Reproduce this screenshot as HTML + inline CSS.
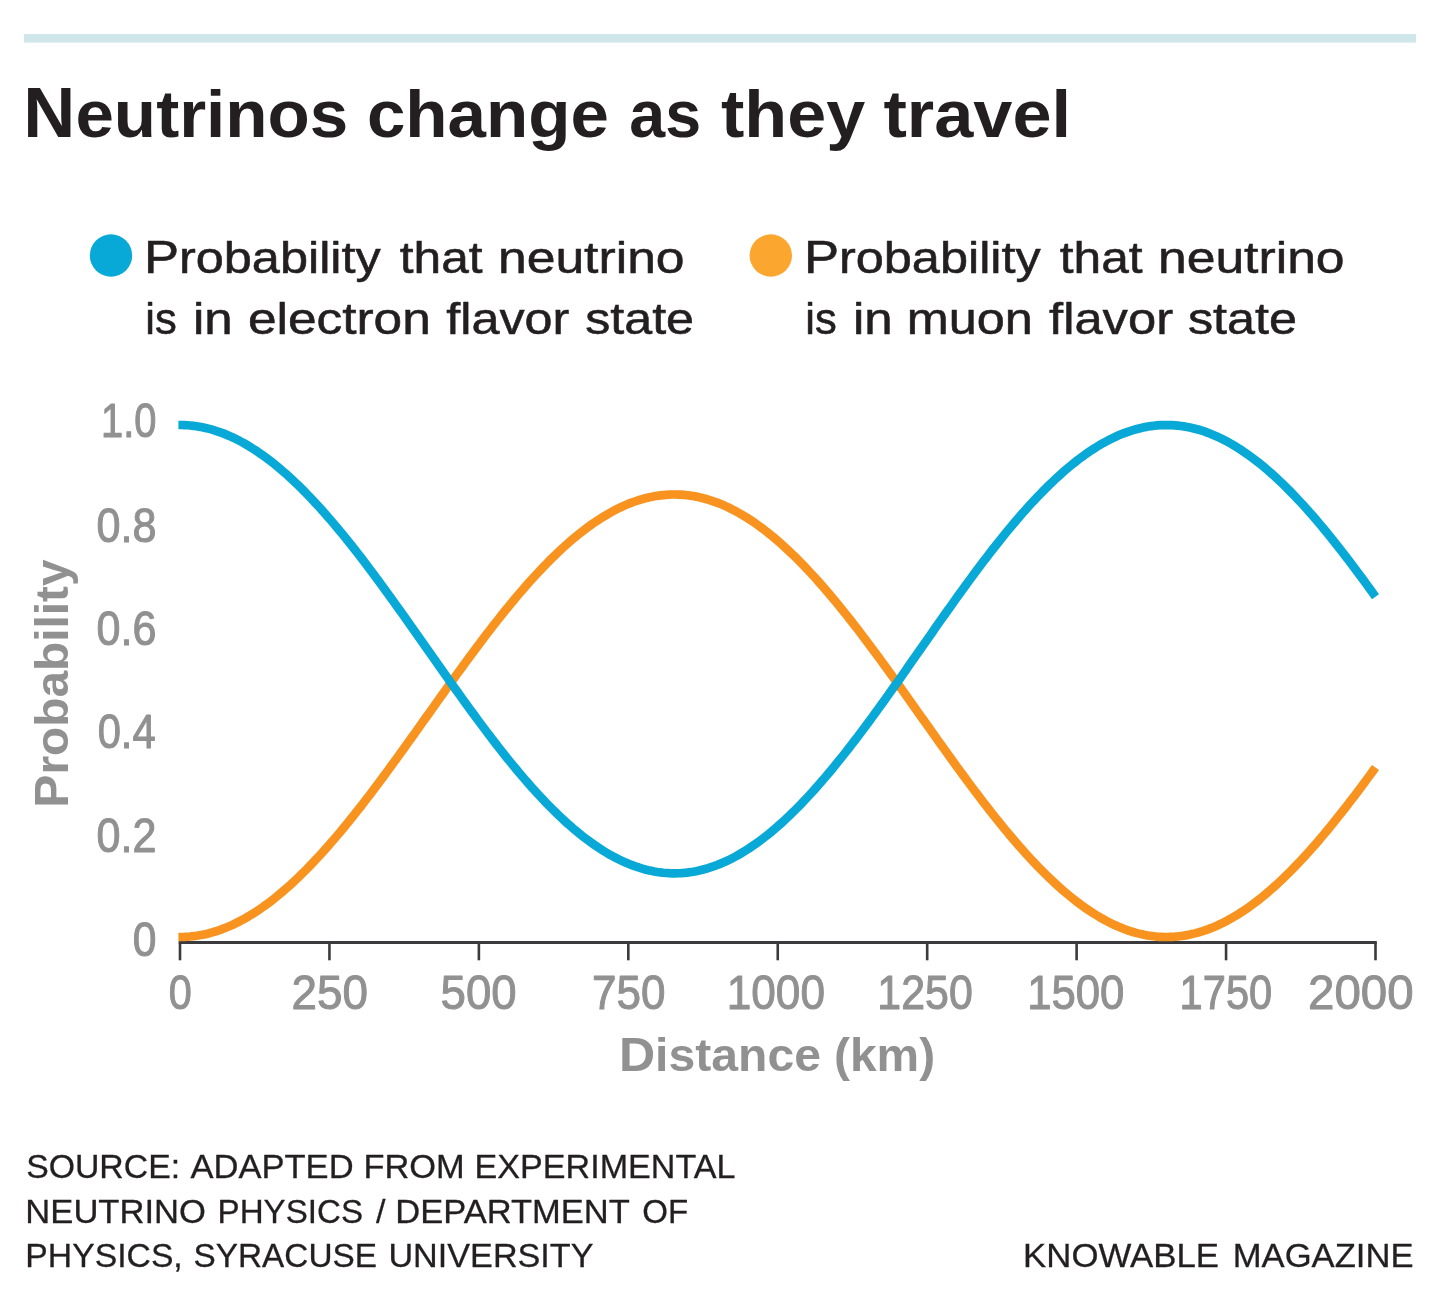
<!DOCTYPE html>
<html lang="en"><head><meta charset="utf-8"><title>Neutrinos change as they travel</title>
<style>html,body{margin:0;padding:0;background:#fff}body{width:1440px;height:1294px;overflow:hidden}svg{display:block}text{white-space:pre}</style>
</head><body>
<svg width="1440" height="1294" viewBox="0 0 1440 1294" font-family='"Liberation Sans", sans-serif'>
<rect x="24" y="34" width="1392" height="8.6" fill="#cfe6ea"/>
<circle cx="111" cy="255.5" r="21.2" fill="#08a9d6"/>
<circle cx="770.8" cy="255.5" r="21.2" fill="#fba62e"/>
<g stroke="#3b3a3c" stroke-width="2.6" fill="none">
<line x1="178.7" y1="942.5" x2="1376.8" y2="942.5" stroke-width="3"/>
<line x1="180" y1="942.5" x2="180" y2="960.3"/><line x1="329.44" y1="942.5" x2="329.44" y2="960.3"/><line x1="478.88" y1="942.5" x2="478.88" y2="960.3"/><line x1="628.31" y1="942.5" x2="628.31" y2="960.3"/><line x1="777.75" y1="942.5" x2="777.75" y2="960.3"/><line x1="927.19" y1="942.5" x2="927.19" y2="960.3"/><line x1="1076.62" y1="942.5" x2="1076.62" y2="960.3"/><line x1="1226.06" y1="942.5" x2="1226.06" y2="960.3"/><line x1="1375.5" y1="942.5" x2="1375.5" y2="960.3"/>
</g>
<path d="M178.4 936.99 L181.39 936.99 L184.39 936.91 L187.38 936.76 L190.37 936.52 L193.36 936.2 L196.36 935.81 L199.35 935.33 L202.34 934.77 L205.33 934.14 L208.33 933.43 L211.32 932.63 L214.31 931.76 L217.31 930.82 L220.3 929.79 L223.29 928.68 L226.28 927.5 L229.28 926.25 L232.27 924.91 L235.26 923.5 L238.25 922.02 L241.25 920.46 L244.24 918.83 L247.23 917.12 L250.23 915.34 L253.22 913.49 L256.21 911.57 L259.2 909.58 L262.2 907.51 L265.19 905.38 L268.18 903.18 L271.18 900.91 L274.17 898.57 L277.16 896.17 L280.15 893.7 L283.15 891.17 L286.14 888.58 L289.13 885.92 L292.12 883.2 L295.12 880.42 L298.11 877.58 L301.1 874.68 L304.1 871.73 L307.09 868.72 L310.08 865.65 L313.07 862.53 L316.07 859.36 L319.06 856.13 L322.05 852.85 L325.04 849.53 L328.04 846.15 L331.03 842.73 L334.02 839.26 L337.02 835.75 L340.01 832.2 L343 828.6 L345.99 824.96 L348.99 821.28 L351.98 817.56 L354.97 813.81 L357.97 810.02 L360.96 806.2 L363.95 802.35 L366.94 798.46 L369.94 794.54 L372.93 790.6 L375.92 786.63 L378.91 782.63 L381.91 778.61 L384.9 774.56 L387.89 770.5 L390.89 766.41 L393.88 762.31 L396.87 758.19 L399.86 754.05 L402.86 749.9 L405.85 745.74 L408.84 741.57 L411.83 737.38 L414.83 733.19 L417.82 729 L420.81 724.8 L423.81 720.59 L426.8 716.38 L429.79 712.18 L432.78 707.97 L435.78 703.77 L438.77 699.57 L441.76 695.38 L444.75 691.2 L447.75 687.02 L450.74 682.85 L453.73 678.7 L456.73 674.56 L459.72 670.43 L462.71 666.33 L465.7 662.23 L468.7 658.16 L471.69 654.11 L474.68 650.08 L477.67 646.08 L480.67 642.1 L483.66 638.14 L486.65 634.22 L489.65 630.32 L492.64 626.46 L495.63 622.63 L498.62 618.83 L501.62 615.06 L504.61 611.34 L507.6 607.65 L510.6 604 L513.59 600.39 L516.58 596.82 L519.57 593.29 L522.57 589.81 L525.56 586.38 L528.55 582.99 L531.54 579.65 L534.54 576.35 L537.53 573.11 L540.52 569.92 L543.52 566.79 L546.51 563.7 L549.5 560.67 L552.49 557.7 L555.49 554.79 L558.48 551.93 L561.47 549.13 L564.46 546.39 L567.46 543.72 L570.45 541.1 L573.44 538.55 L576.44 536.07 L579.43 533.65 L582.42 531.29 L585.41 529 L588.41 526.78 L591.4 524.62 L594.39 522.54 L597.38 520.53 L600.38 518.58 L603.37 516.71 L606.36 514.91 L609.36 513.18 L612.35 511.52 L615.34 509.94 L618.33 508.44 L621.33 507 L624.32 505.65 L627.31 504.37 L630.31 503.16 L633.3 502.04 L636.29 500.99 L639.28 500.01 L642.28 499.12 L645.27 498.3 L648.26 497.57 L651.25 496.91 L654.25 496.33 L657.24 495.83 L660.23 495.41 L663.23 495.07 L666.22 494.81 L669.21 494.62 L672.2 494.52 L675.2 494.5 L678.19 494.56 L681.18 494.7 L684.17 494.92 L687.17 495.22 L690.16 495.61 L693.15 496.07 L696.15 496.61 L699.14 497.23 L702.13 497.93 L705.12 498.72 L708.12 499.58 L711.11 500.52 L714.1 501.54 L717.09 502.63 L720.09 503.81 L723.08 505.06 L726.07 506.39 L729.07 507.79 L732.06 509.28 L735.05 510.83 L738.04 512.46 L741.04 514.17 L744.03 515.95 L747.02 517.8 L750.02 519.73 L753.01 521.72 L756 523.79 L758.99 525.93 L761.99 528.13 L764.98 530.41 L767.97 532.75 L770.96 535.16 L773.96 537.64 L776.95 540.18 L779.94 542.78 L782.94 545.45 L785.93 548.18 L788.92 550.97 L791.91 553.82 L794.91 556.73 L797.9 559.7 L800.89 562.73 L803.88 565.81 L806.88 568.95 L809.87 572.14 L812.86 575.38 L815.86 578.67 L818.85 582.01 L821.84 585.41 L824.83 588.85 L827.83 592.33 L830.82 595.86 L833.81 599.44 L836.8 603.06 L839.8 606.72 L842.79 610.42 L845.78 614.15 L848.78 617.93 L851.77 621.74 L854.76 625.58 L857.75 629.46 L860.75 633.37 L863.74 637.31 L866.73 641.27 L869.73 645.27 L872.72 649.29 L875.71 653.33 L878.7 657.4 L881.7 661.49 L884.69 665.6 L887.68 669.72 L890.67 673.87 L893.67 678.03 L896.66 682.2 L899.65 686.38 L902.65 690.58 L905.64 694.79 L908.63 699 L911.62 703.22 L914.62 707.44 L917.61 711.67 L920.6 715.89 L923.59 720.12 L926.59 724.35 L929.58 728.57 L932.57 732.79 L935.57 737 L938.56 741.21 L941.55 745.4 L944.54 749.59 L947.54 753.76 L950.53 757.91 L953.52 762.06 L956.51 766.18 L959.51 770.29 L962.5 774.38 L965.49 778.44 L968.49 782.49 L971.48 786.51 L974.47 790.5 L977.46 794.46 L980.46 798.4 L983.45 802.31 L986.44 806.18 L989.44 810.02 L992.43 813.83 L995.42 817.6 L998.41 821.34 L1001.41 825.03 L1004.4 828.69 L1007.39 832.31 L1010.38 835.88 L1013.38 839.41 L1016.37 842.89 L1019.36 846.33 L1022.36 849.71 L1025.35 853.06 L1028.34 856.35 L1031.33 859.58 L1034.33 862.77 L1037.32 865.9 L1040.31 868.98 L1043.3 872 L1046.3 874.97 L1049.29 877.87 L1052.28 880.72 L1055.28 883.51 L1058.27 886.23 L1061.26 888.9 L1064.25 891.5 L1067.25 894.03 L1070.24 896.5 L1073.23 898.91 L1076.23 901.25 L1079.22 903.52 L1082.21 905.72 L1085.2 907.85 L1088.2 909.92 L1091.19 911.91 L1094.18 913.83 L1097.17 915.67 L1100.17 917.45 L1103.16 919.15 L1106.15 920.78 L1109.15 922.33 L1112.14 923.8 L1115.13 925.2 L1118.12 926.53 L1121.12 927.77 L1124.11 928.94 L1127.1 930.04 L1130.09 931.05 L1133.09 931.98 L1136.08 932.84 L1139.07 933.62 L1142.07 934.31 L1145.06 934.93 L1148.05 935.47 L1151.04 935.92 L1154.04 936.3 L1157.03 936.6 L1160.02 936.81 L1163.01 936.95 L1166.01 937 L1169 936.97 L1171.99 936.86 L1174.99 936.68 L1177.98 936.41 L1180.97 936.06 L1183.96 935.63 L1186.96 935.12 L1189.95 934.52 L1192.94 933.85 L1195.93 933.1 L1198.93 932.27 L1201.92 931.37 L1204.91 930.38 L1207.91 929.31 L1210.9 928.17 L1213.89 926.95 L1216.88 925.65 L1219.88 924.27 L1222.87 922.82 L1225.86 921.29 L1228.86 919.69 L1231.85 918.02 L1234.84 916.27 L1237.83 914.44 L1240.83 912.55 L1243.82 910.58 L1246.81 908.54 L1249.8 906.43 L1252.8 904.25 L1255.79 902 L1258.78 899.69 L1261.78 897.3 L1264.77 894.85 L1267.76 892.34 L1270.75 889.76 L1273.75 887.12 L1276.74 884.41 L1279.73 881.64 L1282.72 878.82 L1285.72 875.93 L1288.71 872.98 L1291.7 869.98 L1294.7 866.92 L1297.69 863.81 L1300.68 860.64 L1303.67 857.42 L1306.67 854.14 L1309.66 850.82 L1312.65 847.45 L1315.64 844.03 L1318.64 840.56 L1321.63 837.04 L1324.62 833.49 L1327.62 829.88 L1330.61 826.24 L1333.6 822.56 L1336.59 818.84 L1339.59 815.08 L1342.58 811.28 L1345.57 807.45 L1348.57 803.59 L1351.56 799.69 L1354.55 795.76 L1357.54 791.81 L1360.54 787.82 L1363.53 783.81 L1366.52 779.78 L1369.51 775.72 L1372.51 771.64 L1375.5 767.54" fill="none" stroke="#f9931f" stroke-width="8.7"/>
<path d="M178.4 425.01 L181.39 425.01 L184.39 425.09 L187.38 425.25 L190.37 425.49 L193.36 425.81 L196.36 426.21 L199.35 426.69 L202.34 427.25 L205.33 427.9 L208.33 428.62 L211.32 429.42 L214.31 430.3 L217.31 431.27 L220.3 432.31 L223.29 433.42 L226.28 434.62 L229.28 435.89 L232.27 437.25 L235.26 438.67 L238.25 440.18 L241.25 441.76 L244.24 443.41 L247.23 445.14 L250.23 446.94 L253.22 448.82 L256.21 450.76 L259.2 452.78 L262.2 454.87 L265.19 457.03 L268.18 459.27 L271.18 461.56 L274.17 463.93 L277.16 466.36 L280.15 468.86 L283.15 471.43 L286.14 474.06 L289.13 476.75 L292.12 479.5 L295.12 482.32 L298.11 485.2 L301.1 488.13 L304.1 491.13 L307.09 494.18 L310.08 497.28 L313.07 500.45 L316.07 503.66 L319.06 506.93 L322.05 510.25 L325.04 513.62 L328.04 517.04 L331.03 520.5 L334.02 524.02 L337.02 527.58 L340.01 531.18 L343 534.82 L345.99 538.51 L348.99 542.24 L351.98 546 L354.97 549.8 L357.97 553.64 L360.96 557.51 L363.95 561.42 L366.94 565.36 L369.94 569.32 L372.93 573.32 L375.92 577.34 L378.91 581.39 L381.91 585.47 L384.9 589.57 L387.89 593.69 L390.89 597.82 L393.88 601.98 L396.87 606.16 L399.86 610.35 L402.86 614.55 L405.85 618.77 L408.84 623 L411.83 627.23 L414.83 631.48 L417.82 635.73 L420.81 639.99 L423.81 644.25 L426.8 648.51 L429.79 652.77 L432.78 657.03 L435.78 661.29 L438.77 665.54 L441.76 669.79 L444.75 674.03 L447.75 678.26 L450.74 682.48 L453.73 686.69 L456.73 690.88 L459.72 695.06 L462.71 699.22 L465.7 703.37 L468.7 707.49 L471.69 711.6 L474.68 715.68 L477.67 719.74 L480.67 723.77 L483.66 727.77 L486.65 731.75 L489.65 735.7 L492.64 739.61 L495.63 743.49 L498.62 747.34 L501.62 751.16 L504.61 754.93 L507.6 758.67 L510.6 762.37 L513.59 766.03 L516.58 769.64 L519.57 773.21 L522.57 776.74 L525.56 780.22 L528.55 783.65 L531.54 787.04 L534.54 790.37 L537.53 793.66 L540.52 796.89 L543.52 800.07 L546.51 803.19 L549.5 806.26 L552.49 809.27 L555.49 812.22 L558.48 815.12 L561.47 817.95 L564.46 820.72 L567.46 823.44 L570.45 826.08 L573.44 828.67 L576.44 831.19 L579.43 833.64 L582.42 836.03 L585.41 838.35 L588.41 840.6 L591.4 842.78 L594.39 844.89 L597.38 846.93 L600.38 848.9 L603.37 850.8 L606.36 852.62 L609.36 854.38 L612.35 856.05 L615.34 857.65 L618.33 859.18 L621.33 860.63 L624.32 862.01 L627.31 863.3 L630.31 864.52 L633.3 865.66 L636.29 866.73 L639.28 867.71 L642.28 868.62 L645.27 869.45 L648.26 870.19 L651.25 870.86 L654.25 871.45 L657.24 871.95 L660.23 872.38 L663.23 872.73 L666.22 872.99 L669.21 873.17 L672.2 873.28 L675.2 873.3 L678.19 873.24 L681.18 873.1 L684.17 872.87 L687.17 872.57 L690.16 872.18 L693.15 871.71 L696.15 871.16 L699.14 870.53 L702.13 869.82 L705.12 869.03 L708.12 868.16 L711.11 867.2 L714.1 866.17 L717.09 865.06 L720.09 863.87 L723.08 862.6 L726.07 861.26 L729.07 859.83 L732.06 858.33 L735.05 856.75 L738.04 855.1 L741.04 853.37 L744.03 851.57 L747.02 849.69 L750.02 847.74 L753.01 845.72 L756 843.63 L758.99 841.46 L761.99 839.23 L764.98 836.92 L767.97 834.55 L770.96 832.11 L773.96 829.6 L776.95 827.02 L779.94 824.38 L782.94 821.68 L785.93 818.92 L788.92 816.09 L791.91 813.2 L794.91 810.25 L797.9 807.24 L800.89 804.18 L803.88 801.06 L806.88 797.88 L809.87 794.65 L812.86 791.36 L815.86 788.03 L818.85 784.64 L821.84 781.2 L824.83 777.72 L827.83 774.18 L830.82 770.61 L833.81 766.98 L836.8 763.32 L839.8 759.61 L842.79 755.87 L845.78 752.08 L848.78 748.26 L851.77 744.4 L854.76 740.5 L857.75 736.57 L860.75 732.61 L863.74 728.62 L866.73 724.6 L869.73 720.56 L872.72 716.48 L875.71 712.39 L878.7 708.26 L881.7 704.12 L884.69 699.96 L887.68 695.78 L890.67 691.58 L893.67 687.37 L896.66 683.14 L899.65 678.9 L902.65 674.65 L905.64 670.39 L908.63 666.12 L911.62 661.85 L914.62 657.57 L917.61 653.29 L920.6 649 L923.59 644.72 L926.59 640.44 L929.58 636.16 L932.57 631.89 L935.57 627.62 L938.56 623.36 L941.55 619.11 L944.54 614.87 L947.54 610.64 L950.53 606.43 L953.52 602.24 L956.51 598.06 L959.51 593.89 L962.5 589.75 L965.49 585.63 L968.49 581.54 L971.48 577.47 L974.47 573.42 L977.46 569.4 L980.46 565.42 L983.45 561.46 L986.44 557.53 L989.44 553.64 L992.43 549.78 L995.42 545.96 L998.41 542.18 L1001.41 538.43 L1004.4 534.73 L1007.39 531.07 L1010.38 527.45 L1013.38 523.87 L1016.37 520.34 L1019.36 516.86 L1022.36 513.43 L1025.35 510.05 L1028.34 506.71 L1031.33 503.43 L1034.33 500.2 L1037.32 497.03 L1040.31 493.91 L1043.3 490.85 L1046.3 487.85 L1049.29 484.9 L1052.28 482.02 L1055.28 479.19 L1058.27 476.43 L1061.26 473.73 L1064.25 471.1 L1067.25 468.53 L1070.24 466.03 L1073.23 463.59 L1076.23 461.22 L1079.22 458.92 L1082.21 456.69 L1085.2 454.53 L1088.2 452.44 L1091.19 450.42 L1094.18 448.48 L1097.17 446.61 L1100.17 444.81 L1103.16 443.08 L1106.15 441.44 L1109.15 439.86 L1112.14 438.37 L1115.13 436.95 L1118.12 435.61 L1121.12 434.35 L1124.11 433.16 L1127.1 432.06 L1130.09 431.03 L1133.09 430.08 L1136.08 429.22 L1139.07 428.43 L1142.07 427.72 L1145.06 427.1 L1148.05 426.55 L1151.04 426.09 L1154.04 425.71 L1157.03 425.41 L1160.02 425.19 L1163.01 425.06 L1166.01 425 L1169 425.03 L1171.99 425.14 L1174.99 425.33 L1177.98 425.6 L1180.97 425.96 L1183.96 426.39 L1186.96 426.91 L1189.95 427.51 L1192.94 428.19 L1195.93 428.95 L1198.93 429.79 L1201.92 430.71 L1204.91 431.71 L1207.91 432.79 L1210.9 433.95 L1213.89 435.19 L1216.88 436.5 L1219.88 437.89 L1222.87 439.36 L1225.86 440.91 L1228.86 442.53 L1231.85 444.23 L1234.84 446.01 L1237.83 447.85 L1240.83 449.77 L1243.82 451.77 L1246.81 453.83 L1249.8 455.97 L1252.8 458.18 L1255.79 460.46 L1258.78 462.8 L1261.78 465.22 L1264.77 467.7 L1267.76 470.25 L1270.75 472.86 L1273.75 475.54 L1276.74 478.28 L1279.73 481.08 L1282.72 483.95 L1285.72 486.87 L1288.71 489.85 L1291.7 492.9 L1294.7 496 L1297.69 499.15 L1300.68 502.36 L1303.67 505.63 L1306.67 508.94 L1309.66 512.31 L1312.65 515.73 L1315.64 519.19 L1318.64 522.71 L1321.63 526.27 L1324.62 529.87 L1327.62 533.52 L1330.61 537.21 L1333.6 540.94 L1336.59 544.71 L1339.59 548.52 L1342.58 552.37 L1345.57 556.25 L1348.57 560.16 L1351.56 564.11 L1354.55 568.09 L1357.54 572.1 L1360.54 576.13 L1363.53 580.2 L1366.52 584.28 L1369.51 588.4 L1372.51 592.53 L1375.5 596.68" fill="none" stroke="#08a9d6" stroke-width="8.7"/>
<g>
<text transform="translate(23.36 136.6) scale(1.0341 1)" font-size="66.9" font-weight="bold" fill="#231f20"><tspan font-size="69.69">N</tspan>eutrinos</text>
<text transform="translate(366.93 136.6) scale(1.0331 1)" font-size="66.9" font-weight="bold" fill="#231f20">change</text>
<text transform="translate(629.34 136.6) scale(0.9649 1)" font-size="66.9" font-weight="bold" fill="#231f20">as</text>
<text transform="translate(721 136.6) scale(1.0485 1)" font-size="66.9" font-weight="bold" fill="#231f20">they</text>
<text transform="translate(883.4 136.6) scale(1.0517 1)" font-size="66.9" font-weight="bold" fill="#231f20">travel</text>
<text transform="translate(143.88 272.7) scale(1.1402 1)" font-size="44.24" font-weight="normal" fill="#231f20" stroke="#231f20" stroke-width="0.6" stroke-linejoin="round" vector-effect="non-scaling-stroke"><tspan font-size="46.08">P</tspan>robability</text>
<text transform="translate(399.8 272.7) scale(1.1215 1)" font-size="44.24" font-weight="normal" fill="#231f20" stroke="#231f20" stroke-width="0.6" stroke-linejoin="round" vector-effect="non-scaling-stroke">that</text>
<text transform="translate(497.96 272.7) scale(1.1677 1)" font-size="44.24" font-weight="normal" fill="#231f20" stroke="#231f20" stroke-width="0.6" stroke-linejoin="round" vector-effect="non-scaling-stroke">neutrino</text>
<text transform="translate(145.33 333.9) scale(0.9853 1)" font-size="44.24" font-weight="normal" fill="#231f20" stroke="#231f20" stroke-width="0.6" stroke-linejoin="round" vector-effect="non-scaling-stroke">is</text>
<text transform="translate(192.99 333.9) scale(1.1534 1)" font-size="44.24" font-weight="normal" fill="#231f20" stroke="#231f20" stroke-width="0.6" stroke-linejoin="round" vector-effect="non-scaling-stroke">in</text>
<text transform="translate(247.89 333.9) scale(1.1622 1)" font-size="44.24" font-weight="normal" fill="#231f20" stroke="#231f20" stroke-width="0.6" stroke-linejoin="round" vector-effect="non-scaling-stroke">electron</text>
<text transform="translate(446.3 333.9) scale(1.1373 1)" font-size="44.24" font-weight="normal" fill="#231f20" stroke="#231f20" stroke-width="0.6" stroke-linejoin="round" vector-effect="non-scaling-stroke">flavor</text>
<text transform="translate(585.16 333.9) scale(1.1354 1)" font-size="44.24" font-weight="normal" fill="#231f20" stroke="#231f20" stroke-width="0.6" stroke-linejoin="round" vector-effect="non-scaling-stroke">state</text>
<text transform="translate(803.88 272.7) scale(1.1402 1)" font-size="44.24" font-weight="normal" fill="#231f20" stroke="#231f20" stroke-width="0.6" stroke-linejoin="round" vector-effect="non-scaling-stroke"><tspan font-size="46.08">P</tspan>robability</text>
<text transform="translate(1059.8 272.7) scale(1.1215 1)" font-size="44.24" font-weight="normal" fill="#231f20" stroke="#231f20" stroke-width="0.6" stroke-linejoin="round" vector-effect="non-scaling-stroke">that</text>
<text transform="translate(1157.96 272.7) scale(1.1677 1)" font-size="44.24" font-weight="normal" fill="#231f20" stroke="#231f20" stroke-width="0.6" stroke-linejoin="round" vector-effect="non-scaling-stroke">neutrino</text>
<text transform="translate(805.33 333.9) scale(0.9853 1)" font-size="44.24" font-weight="normal" fill="#231f20" stroke="#231f20" stroke-width="0.6" stroke-linejoin="round" vector-effect="non-scaling-stroke">is</text>
<text transform="translate(852.99 333.9) scale(1.1534 1)" font-size="44.24" font-weight="normal" fill="#231f20" stroke="#231f20" stroke-width="0.6" stroke-linejoin="round" vector-effect="non-scaling-stroke">in</text>
<text transform="translate(906.77 333.9) scale(1.1380 1)" font-size="44.24" font-weight="normal" fill="#231f20" stroke="#231f20" stroke-width="0.6" stroke-linejoin="round" vector-effect="non-scaling-stroke">muon</text>
<text transform="translate(1049.05 333.9) scale(1.1466 1)" font-size="44.24" font-weight="normal" fill="#231f20" stroke="#231f20" stroke-width="0.6" stroke-linejoin="round" vector-effect="non-scaling-stroke">flavor</text>
<text transform="translate(1187.91 333.9) scale(1.1381 1)" font-size="44.24" font-weight="normal" fill="#231f20" stroke="#231f20" stroke-width="0.6" stroke-linejoin="round" vector-effect="non-scaling-stroke">state</text>
<text transform="translate(101 437.2) scale(0.8345 1)" font-size="47.79" font-weight="normal" fill="#919191" stroke="#919191" stroke-width="1" stroke-linejoin="round" vector-effect="non-scaling-stroke">1.0</text>
<text transform="translate(96.5 541.5) scale(0.9039 1)" font-size="47.79" font-weight="normal" fill="#919191" stroke="#919191" stroke-width="1" stroke-linejoin="round" vector-effect="non-scaling-stroke">0.8</text>
<text transform="translate(96.6 645.2) scale(0.9023 1)" font-size="47.79" font-weight="normal" fill="#919191" stroke="#919191" stroke-width="1" stroke-linejoin="round" vector-effect="non-scaling-stroke">0.6</text>
<text transform="translate(97.63 748.4) scale(0.8730 1)" font-size="47.79" font-weight="normal" fill="#919191" stroke="#919191" stroke-width="1" stroke-linejoin="round" vector-effect="non-scaling-stroke">0.4</text>
<text transform="translate(96.6 852.4) scale(0.9023 1)" font-size="47.79" font-weight="normal" fill="#919191" stroke="#919191" stroke-width="1" stroke-linejoin="round" vector-effect="non-scaling-stroke">0.2</text>
<text transform="translate(132.81 955.9) scale(0.8917 1)" font-size="47.79" font-weight="normal" fill="#919191" stroke="#919191" stroke-width="1" stroke-linejoin="round" vector-effect="non-scaling-stroke">0</text>
<text transform="translate(168.83 1009.1) scale(0.8667 1)" font-size="47.79" font-weight="normal" fill="#919191" stroke="#919191" stroke-width="1" stroke-linejoin="round" vector-effect="non-scaling-stroke">0</text>
<text transform="translate(291.58 1009.1) scale(0.9589 1)" font-size="47.79" font-weight="normal" fill="#919191" stroke="#919191" stroke-width="1" stroke-linejoin="round" vector-effect="non-scaling-stroke">250</text>
<text transform="translate(440.55 1009.1) scale(0.9542 1)" font-size="47.79" font-weight="normal" fill="#919191" stroke="#919191" stroke-width="1" stroke-linejoin="round" vector-effect="non-scaling-stroke">500</text>
<text transform="translate(591.96 1009.1) scale(0.9208 1)" font-size="47.79" font-weight="normal" fill="#919191" stroke="#919191" stroke-width="1" stroke-linejoin="round" vector-effect="non-scaling-stroke">750</text>
<text transform="translate(726.73 1009.1) scale(0.9243 1)" font-size="47.79" font-weight="normal" fill="#919191" stroke="#919191" stroke-width="1" stroke-linejoin="round" vector-effect="non-scaling-stroke">1000</text>
<text transform="translate(877.31 1009.1) scale(0.8978 1)" font-size="47.79" font-weight="normal" fill="#919191" stroke="#919191" stroke-width="1" stroke-linejoin="round" vector-effect="non-scaling-stroke">1250</text>
<text transform="translate(1027.15 1009.1) scale(0.9155 1)" font-size="47.79" font-weight="normal" fill="#919191" stroke="#919191" stroke-width="1" stroke-linejoin="round" vector-effect="non-scaling-stroke">1500</text>
<text transform="translate(1179.59 1009.1) scale(0.8712 1)" font-size="47.79" font-weight="normal" fill="#919191" stroke="#919191" stroke-width="1" stroke-linejoin="round" vector-effect="non-scaling-stroke">1750</text>
<text transform="translate(1308.01 1009.1) scale(0.9932 1)" font-size="47.79" font-weight="normal" fill="#919191" stroke="#919191" stroke-width="1" stroke-linejoin="round" vector-effect="non-scaling-stroke">2000</text>
<text transform="translate(618.89 1070.5) scale(1.0365 1)" font-size="46.42" font-weight="bold" fill="#919191"><tspan font-size="48.36">D</tspan>istance</text>
<text transform="translate(833.93 1070.5) scale(1.0325 1)" font-size="46.42" font-weight="bold" fill="#919191">(km)</text>
<text transform="translate(26.16 1178.45) scale(0.9941 1)" font-size="33.99" font-weight="normal" fill="#231f20" stroke="#231f20" stroke-width="0.3" stroke-linejoin="round" vector-effect="non-scaling-stroke">SOURCE:</text>
<text transform="translate(190.45 1178.45) scale(1.0165 1)" font-size="33.99" font-weight="normal" fill="#231f20" stroke="#231f20" stroke-width="0.3" stroke-linejoin="round" vector-effect="non-scaling-stroke">ADAPTED</text>
<text transform="translate(363.43 1178.45) scale(1.0122 1)" font-size="33.99" font-weight="normal" fill="#231f20" stroke="#231f20" stroke-width="0.3" stroke-linejoin="round" vector-effect="non-scaling-stroke">FROM</text>
<text transform="translate(474.54 1178.45) scale(1.0036 1)" font-size="33.99" font-weight="normal" fill="#231f20" stroke="#231f20" stroke-width="0.3" stroke-linejoin="round" vector-effect="non-scaling-stroke">EXPERIMENTAL</text>
<text transform="translate(25.31 1222.55) scale(1.0182 1)" font-size="33.99" font-weight="normal" fill="#231f20" stroke="#231f20" stroke-width="0.3" stroke-linejoin="round" vector-effect="non-scaling-stroke">NEUTRINO</text>
<text transform="translate(217.6 1222.55) scale(0.9746 1)" font-size="33.99" font-weight="normal" fill="#231f20" stroke="#231f20" stroke-width="0.3" stroke-linejoin="round" vector-effect="non-scaling-stroke">PHYSICS</text>
<text transform="translate(376.05 1222.55) scale(1.0000 1)" font-size="33.99" font-weight="normal" fill="#231f20" stroke="#231f20" stroke-width="0.3" stroke-linejoin="round" vector-effect="non-scaling-stroke">/</text>
<text transform="translate(395.32 1222.55) scale(1.0152 1)" font-size="33.99" font-weight="normal" fill="#231f20" stroke="#231f20" stroke-width="0.3" stroke-linejoin="round" vector-effect="non-scaling-stroke">DEPARTMENT</text>
<text transform="translate(642.18 1222.55) scale(0.9728 1)" font-size="33.99" font-weight="normal" fill="#231f20" stroke="#231f20" stroke-width="0.3" stroke-linejoin="round" vector-effect="non-scaling-stroke">OF</text>
<text transform="translate(25.37 1267.15) scale(0.9922 1)" font-size="33.99" font-weight="normal" fill="#231f20" stroke="#231f20" stroke-width="0.3" stroke-linejoin="round" vector-effect="non-scaling-stroke">PHYSICS,</text>
<text transform="translate(193.57 1267.15) scale(0.9806 1)" font-size="33.99" font-weight="normal" fill="#231f20" stroke="#231f20" stroke-width="0.3" stroke-linejoin="round" vector-effect="non-scaling-stroke">SYRACUSE</text>
<text transform="translate(388.44 1267.15) scale(1.0056 1)" font-size="33.99" font-weight="normal" fill="#231f20" stroke="#231f20" stroke-width="0.3" stroke-linejoin="round" vector-effect="non-scaling-stroke">UNIVERSITY</text>
<text transform="translate(1023.1 1267.15) scale(1.0239 1)" font-size="33.99" font-weight="normal" fill="#231f20" stroke="#231f20" stroke-width="0.3" stroke-linejoin="round" vector-effect="non-scaling-stroke">KNOWABLE</text>
<text transform="translate(1232.71 1267.15) scale(1.0188 1)" font-size="33.99" font-weight="normal" fill="#231f20" stroke="#231f20" stroke-width="0.3" stroke-linejoin="round" vector-effect="non-scaling-stroke">MAGAZINE</text>
<text transform="translate(68.2 807.79) rotate(-90) scale(1.0303 1)" font-size="46.42" font-weight="bold" fill="#919191"><tspan font-size="48.36">P</tspan>robability</text>
</g>
</svg>
</body></html>
